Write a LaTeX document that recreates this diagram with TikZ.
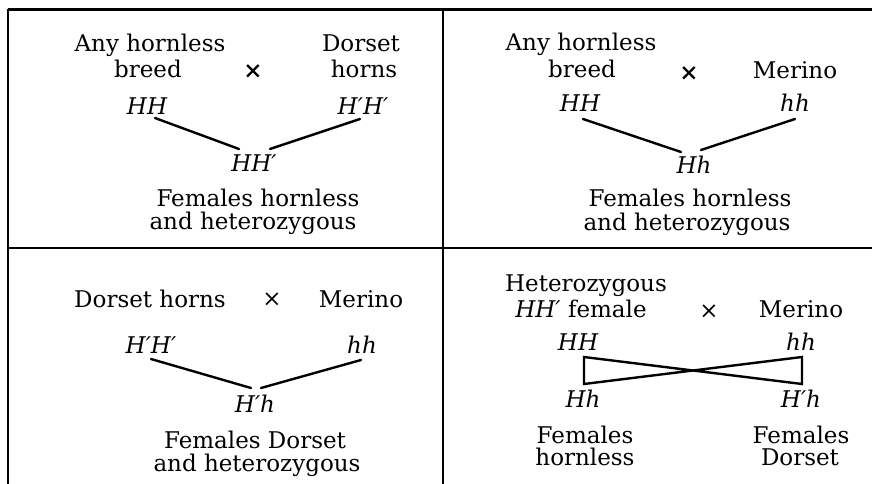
\documentclass[tikz,border=0pt]{standalone}
\usepackage{fontspec}
\setmainfont{DejaVu Serif}
\usetikzlibrary{calc}
\begin{document}
\begin{tikzpicture}[x=1pt,y=-1pt,
  every node/.style={inner sep=0pt,outer sep=0pt,font=\fontsize{23}{24}\selectfont},
  lbl/.style={anchor=base},
  gen/.style={anchor=base,font=\fontsize{23}{24}\selectfont\itshape},
  cross/.style={anchor=center},
  frame/.style={line width=2.4pt,black},
  link/.style={line width=2.4pt,black,line cap=round,line join=miter}]
\useasboundingbox (0,0) rectangle (872,484);
% frame
\draw[frame,line width=3pt] (8,10) -- (872,10);
\draw[frame] (8,9) -- (8,484);
\draw[frame] (443,10) -- (443,484);
\draw[frame] (8,248) -- (872,248);

% ---------- panel 1 ----------
\node[lbl] (a1) at (150,52) {Any hornless};
\node[lbl] (a2) at (148,78) {breed};
\node[cross] (x1) at (253,72) {\textbf{×}};
\node[lbl] (b1) at (361,52) {Dorset};
\node[lbl] (b2) at (364,78) {horns};
\node[gen] (p1HH) at (147,114) {HH};
\node[gen] (p1HpHp) at (363,114) {H′H′};
\node[gen] (p1HHp) at (254,171) {HH′};
\node[lbl] (c1) at (258,206) {Females hornless};
\node[lbl] (c2) at (253,229) {and heterozygous};
\draw[link] ($(p1HH.base)+(8,4)$) -- ($(p1HHp.base)+(-15,-22)$);
\draw[link] ($(p1HHp.base)+(16,-22)$) -- ($(p1HpHp.base)+(-3,5)$);

% ---------- panel 2 ----------
\node[lbl] (d1) at (581,51) {Any hornless};
\node[lbl] (d2) at (582,78) {breed};
\node[cross] (x2) at (689,74) {\textbf{×}};
\node[lbl] (e1) at (795,79) {Merino};
\node[gen] (p2HH) at (580,112) {HH};
\node[gen] (p2hh) at (795,112) {hh};
\node[gen] (p2Hh) at (694,173) {Hh};
\node[lbl] (f1) at (690,206) {Females hornless};
\node[lbl] (f2) at (687,230) {and heterozygous};
\draw[link] ($(p2HH.base)+(3,7)$) -- ($(p2Hh.base)+(-13,-21)$);
\draw[link] ($(p2Hh.base)+(7,-23)$) -- ($(p2hh.base)+(0,7)$);

% ---------- panel 3 ----------
\node[lbl] (g1) at (150,307) {Dorset horns};
\node[cross] (x3) at (272,300) {×};
\node[lbl] (h1) at (361,307) {Merino};
\node[gen] (p3HpHp) at (151,353) {H′H′};
\node[gen] (p3hh) at (362,353) {hh};
\node[gen] (p3Hph) at (255,412) {H′h};
\node[lbl] (i1) at (255,448) {Females Dorset};
\node[lbl] (i2) at (257,471) {and heterozygous};
\draw[link] ($(p3HpHp.base)+(0,6)$) -- ($(p3Hph.base)+(-4,-24)$);
\draw[link] ($(p3Hph.base)+(6,-24)$) -- ($(p3hh.base)+(-1,7)$);

% ---------- panel 4 ----------
\node[lbl] (j1) at (586,291) {Heterozygous};
\node[lbl] (j2) at (581,317) {\textit{HH′} female};
\node[cross] (x4) at (709,312) {×};
\node[lbl] (k1) at (801,317) {Merino};
\node[gen] (p4HH) at (578,350) {HH};
\node[gen] (p4hh) at (801,350) {hh};
\node[gen] (p4Hh) at (583,407) {Hh};
\node[gen] (p4Hph) at (801,407) {H′h};
\node[lbl] (m1) at (585,443) {Females};
\node[lbl] (m2) at (585,465) {hornless};
\node[lbl] (n1) at (801,443) {Females};
\node[lbl] (n2) at (800,465) {Dorset};
\coordinate (q1) at ($(p4HH.base)+(6,7)$);
\coordinate (q2) at ($(p4Hh.base)+(1,-23)$);
\coordinate (q3) at ($(p4hh.base)+(1,7)$);
\coordinate (q4) at ($(p4Hph.base)+(1,-23)$);
\draw[link,line cap=butt] (q1) -- (q4) -- (q3) -- (q2) -- cycle;
\end{tikzpicture}
\end{document}
